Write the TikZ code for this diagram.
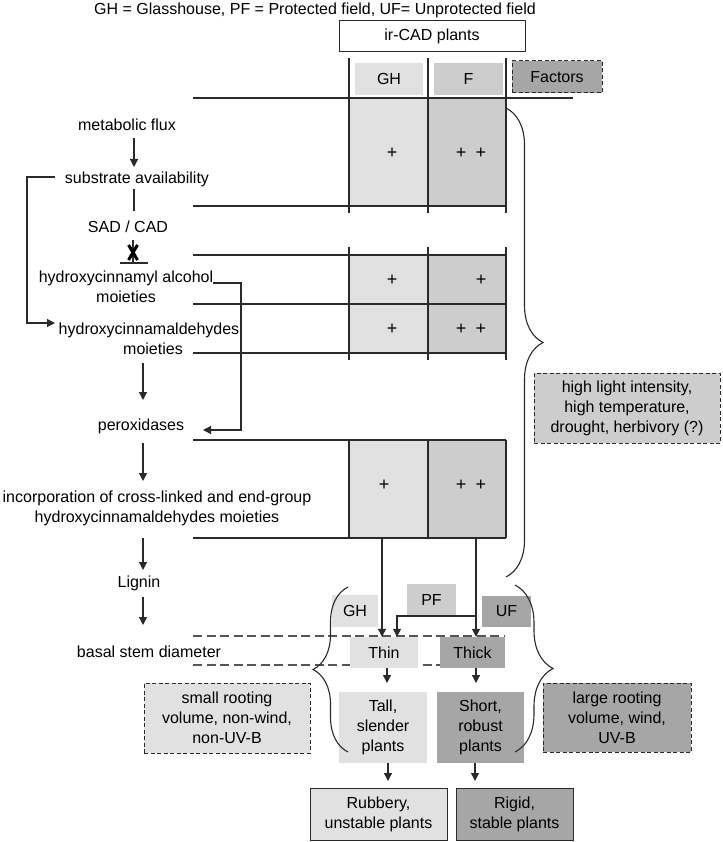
\documentclass[tikz,border=0pt]{standalone}
\usepackage{fontspec}
\setmainfont{Liberation Sans}
\usetikzlibrary{arrows.meta,decorations.pathreplacing,calc}
\definecolor{lightg}{HTML}{E1E1E1}
\definecolor{midg}{HTML}{CDCDCD}
\definecolor{darkg}{HTML}{A6A6A6}
\definecolor{lnc}{HTML}{2A2A2A}
\definecolor{dashc}{HTML}{555555}
\begin{document}
\begin{tikzpicture}[x=1pt,y=-1pt,
  every node/.style={font=\fontsize{16}{20}\selectfont, inner sep=0pt},
  lab/.style={align=center},
  plus/.style={font=\fontsize{18}{20}\selectfont},
  arr/.style={draw=lnc, line width=1.2pt, -{Triangle[length=8pt,width=8pt]}},
  tline/.style={draw=lnc, line width=1.1pt},
  dline/.style={draw=dashc, line width=1.3pt, dash pattern=on 9pt off 4.5pt},
  lightbox/.style={fill=lightg, align=center},
  midbox/.style={fill=midg, align=center},
  darkbox/.style={fill=darkg, align=center},
  dashbox/.style={draw=lnc, line width=1pt, dash pattern=on 4pt off 2.5pt},
  cellbox/.style={minimum width=79pt, draw=none},
  bracebig/.style={draw=lnc, line width=1.1pt, decorate, decoration={brace, amplitude=#1}},
]
\useasboundingbox (0,0) rectangle (722,842);

% title
\node (title) at (315,10) {GH = Glasshouse, PF = Protected field, UF= Unprotected field};
\node[draw=lnc, line width=1pt, minimum width=186pt, minimum height=31pt] (ircad) at (432,36.5) {ir-CAD plants};

% header boxes
\node[lightbox, minimum width=68pt, minimum height=32pt] (ghh) at (389,79) {GH};
\node[midbox, minimum width=69pt, minimum height=32pt] (fh) at (468.5,79) {F};
\node[darkbox, dashbox, minimum width=90pt, minimum height=32pt] (factors) at (557,77) {Factors};

% table cells
\node[cellbox, fill=lightg, minimum height=108pt] (r1g) at (388.5,152) {};
\node[cellbox, fill=midg, minimum width=78pt, minimum height=108pt] (r1f) at (467,152) {};
\node[cellbox, fill=lightg, minimum height=49pt] (r2g) at (388.5,279.5) {};
\node[cellbox, fill=midg, minimum width=78pt, minimum height=49pt] (r2f) at (467,279.5) {};
\node[cellbox, fill=lightg, minimum height=49pt] (r3g) at (388.5,328.5) {};
\node[cellbox, fill=midg, minimum width=78pt, minimum height=49pt] (r3f) at (467,328.5) {};
\node[cellbox, fill=lightg, minimum height=98pt] (r4g) at (388.5,489) {};
\node[cellbox, fill=midg, minimum width=78pt, minimum height=98pt] (r4f) at (467,489) {};

% plus signs
\node[plus] (p1g) at (392,153) {+};
\node[plus] (p1f) at (471,153) {+\hspace{9pt}+};
\node[plus] (p2g) at (392,280) {+};
\node[plus] (p2f) at (481,280) {+};
\node[plus] (p3g) at (392,329) {+};
\node[plus] (p3f) at (471,329) {+\hspace{9pt}+};
\node[plus] (p4g) at (384,485) {+};
\node[plus] (p4f) at (471,485) {+\hspace{9pt}+};

% table lines
\draw[tline] (193,98) -- (573,98);
\foreach \yy in {206,255,304,353,440,538} \draw[tline] (193,\yy) -- (506,\yy);
\foreach \xx in {349,428,506} {
  \draw[tline] (\xx,58) -- (\xx,213);
  \draw[tline] (\xx,247) -- (\xx,360);
  \draw[tline] (\xx,440) -- (\xx,538);
}

% left pathway text
\node (flux) at (127,125) {metabolic flux};
\node (sub) at (137,179) {substrate availability};
\node (sad) at (128,227) {SAD / CAD};
\node[lab] (hca) at (126,286.5) {hydroxycinnamyl alcohol\\moieties};
\node[lab] (hcm) at (149,339) {hydroxycinnamaldehydes\\\hspace*{8pt}moieties};
\node (perox) at (141,426) {peroxidases};
\node[lab] (incorp) at (157,508.5) {incorporation of cross-linked and end-group\\hydroxycinnamaldehydes moieties};
\node (lignin) at (139,583) {Lignin};
\node (basal) at (149,652) {basal stem diameter};

% pathway arrows
\draw[arr] (134,138) -- (134,167);
\draw[tline] (134,189) -- (134,211);
\draw[tline] (133,240) -- (133,263);
\draw[tline] (120,263) -- (148,263);
\draw[draw=black, line width=3pt] (128.5,245) -- (137.5,260) (137.5,245) -- (128.5,260);
\coordinate (subw) at (55,177);
\draw[arr] (subw) -- (27,177) -- (27,323) -- (55,323);
\coordinate (hcae) at (213,283);
\draw[arr] (hcae) -- (241,283) -- (241,430) -- (203,430);
\draw[arr] (143,363) -- (143,400);
\draw[arr] (143,443) -- (143,481);
\draw[arr] (143,538) -- (143,570);
\draw[arr] (143,597) -- (143,625);

% dashed lines
\draw[dline] (193,636) -- (505,636);
\draw[dline] (193,665) -- (505,665);

% big brace
\draw[bracebig=37pt] (506,108) -- (506,577);
\node[midbox, dashbox, minimum width=186pt, minimum height=70pt] (hli) at (627,408)
  {high light intensity,\\high temperature,\\drought, herbivory (?)};

% lower boxes
\node[lightbox, minimum width=46pt, minimum height=32pt] (ghl) at (355,611) {GH};
\node[midbox, minimum width=49pt, minimum height=31pt] (pf) at (431.5,599.5) {PF};
\node[darkbox, minimum width=49pt, minimum height=31pt] (uf) at (506.5,611.5) {UF};
\node[lightbox, minimum width=68pt, minimum height=31pt] (thin) at (384,652.5) {Thin};
\node[darkbox, minimum width=65pt, minimum height=31pt] (thick) at (472.5,652.5) {Thick};
\node[lightbox, minimum width=88pt, minimum height=71pt] (tall) at (383,727.5) {Tall,\\slender\\plants};
\node[darkbox, minimum width=87pt, minimum height=71pt] (short) at (480.5,727.5) {Short,\\robust\\plants};
\node[lightbox, draw=lnc, line width=1pt, minimum width=137pt, minimum height=52pt] (rubbery) at (378.5,814) {Rubbery,\\unstable plants};
\node[darkbox, draw=lnc, line width=1pt, minimum width=117pt, minimum height=52pt] (rigid) at (514.5,814) {Rigid,\\stable plants};
\node[lightbox, dashbox, minimum width=166pt, minimum height=70pt] (small) at (227,718) {small rooting\\volume, non-wind,\\non-UV-B};
\node[darkbox, dashbox, minimum width=148pt, minimum height=69pt] (large) at (617,717.5) {large rooting\\volume, wind,\\UV-B};

% lower braces
\draw[bracebig=35pt] (348,752) -- (348,587);
\draw[bracebig=38pt] (515,585) -- (515,752);

% lower arrows
\draw[arr] (r4g.south -| 382,0) -- (thin.north -| 382,0);
\draw[arr] (r4f.south -| 476,0) -- (thick.north -| 476,0);
\draw[arr] (476,616) -- (397,616) -- (thin.north -| 397,0);
\draw[arr] (thin.south -| 387,0) -- (387,683);
\draw[arr] (thick.south -| 476,0) -- (476,683);
\draw[arr] (tall.south -| 388,0) -- (388,781);
\draw[arr] (short.south -| 475,0) -- (475,781);
\end{tikzpicture}
\end{document}
